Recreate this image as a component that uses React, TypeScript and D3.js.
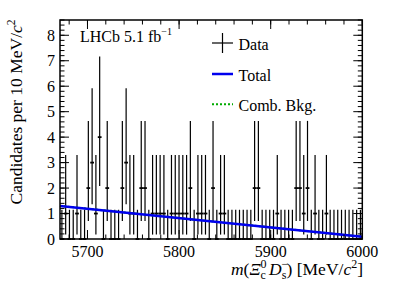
import React from 'react';
import * as d3 from 'd3';

// histogram range and per-bin counts (80 bins)
const massLow = 5670;
const massHigh = 6000;
const counts = [
  0, 1, 0, 0, 1, 0, 0, 2, 3, 1,
  4, 0, 2, 0, 0, 0, 2, 3, 1, 1,
  0, 2, 2, 0, 1, 1, 1, 1, 0, 1,
  1, 1, 1, 1, 2, 0, 1, 1, 1, 0,
  2, 0, 1, 1, 0, 0, 0, 0, 0, 0,
  0, 2, 2, 0, 0, 0, 0, 1, 0, 0,
  0, 0, 2, 2, 1, 2, 0, 1, 0, 0,
  1, 0, 0, 0, 0, 0, 0, 0, 0, 0,
];
// poisson interval edges by count
const poissonLow = [0, 0.173, 0.708, 1.367, 2.086];
const poissonHigh = [1.148, 3.3, 4.638, 5.918, 7.163];

// fit curves
const totalMass = [5670, 6000];
const totalYield = [1.3, 0.09];
const combMass = [5670, 6000];
const combYield = [1.3, 0.09];

const xTicks = [5700, 5800, 5900, 6000];
const yTicks = [0, 1, 2, 3, 4, 5, 6, 7, 8];

const W = 399;
const H = 286;
const L = 60;
const R = 362.3;
const T = 20;
const B = 239;
const font = "Liberation Serif, Tinos, DejaVu Serif, Noto Serif, serif";

export default function App() {
  const x = d3.scaleLinear().domain([massLow, massHigh]).range([L, R]);
  const y = d3.scaleLinear().domain([0, 8.6]).range([B, T]);
  const nBins = counts.length;
  const bw = (massHigh - massLow) / nBins;

  const line = d3.line<number>()
    .x((_, i) => x(totalMass[i]))
    .y(d => y(d));
  const combLine = d3.line<number>()
    .x((_, i) => x(combMass[i]))
    .y(d => y(d));

  const xMinor = d3.range(massLow + 10, massHigh + 0.1, 20);
  const yMinor = d3.range(0, 8.61, 0.2);

  return (
    <svg width={W} height={H} style={{ position: 'absolute', left: 0, top: 0 }}>
      <rect width={W} height={H} fill="white" />
      {/* data points */}
      <g stroke="black" strokeWidth={1.2}>
        {counts.map((c, i) => {
          const lo = massLow + i * bw;
          const cx = x(lo + bw / 2);
          return (
            <g key={i}>
              <line x1={cx} x2={cx} y1={y(poissonLow[c])} y2={y(poissonHigh[c])} />
              <line x1={x(lo)} x2={x(lo + bw)} y1={y(c)} y2={y(c)} strokeWidth={1.8} />
            </g>
          );
        })}
      </g>
      <path d={combLine(combYield) || ''} fill="none" stroke="#00aa00" strokeWidth={2} strokeDasharray="2,2" />
      <path d={line(totalYield) || ''} fill="none" stroke="#0000ee" strokeWidth={2.5} />
      {/* frame */}
      <rect x={L} y={T} width={R - L} height={B - T} fill="none" stroke="black" strokeWidth={1.5} />
      <g stroke="black" strokeWidth={1}>
        {xTicks.map(t => (
          <g key={t}>
            <line x1={x(t)} x2={x(t)} y1={B} y2={B - 9} />
            <line x1={x(t)} x2={x(t)} y1={T} y2={T + 9} />
          </g>
        ))}
        {xMinor.map(t => (
          <g key={t}>
            <line x1={x(t)} x2={x(t)} y1={B} y2={B - 4.5} />
            <line x1={x(t)} x2={x(t)} y1={T} y2={T + 4.5} />
          </g>
        ))}
        {yTicks.map(t => (
          <g key={t}>
            <line x1={L} x2={L + 9} y1={y(t)} y2={y(t)} />
            <line x1={R} x2={R - 9} y1={y(t)} y2={y(t)} />
          </g>
        ))}
        {yMinor.map((t, i) => (
          <g key={i}>
            <line x1={L} x2={L + 4.5} y1={y(t)} y2={y(t)} />
            <line x1={R} x2={R - 4.5} y1={y(t)} y2={y(t)} />
          </g>
        ))}
      </g>
      <g fontFamily={font}>
        {/* tick labels */}
        <g fontSize={16} fill="black">
          {xTicks.map(t => (
            <text key={t} x={x(t)} y={257} textAnchor="middle">{t}</text>
          ))}
          {yTicks.map(t => (
            <text key={t} x={55} y={y(t) + 5.5} textAnchor="end">{t}</text>
          ))}
        </g>
        {/* axis titles */}
        <text transform="translate(22,112) rotate(-90)" textAnchor="middle" fontSize={17.5}>
          Candidates per 10 MeV/<tspan fontStyle="italic">c</tspan><tspan fontSize={11.5} dy={-7}>2</tspan>
        </text>
        <text x={363} y={275} textAnchor="end" fontSize={17.5}>
          <tspan fontStyle="italic">m</tspan>(<tspan fontStyle="italic">Ξ</tspan>
          <tspan fontSize={12} dy={-7}>0</tspan>
          <tspan fontSize={12} dx={-6} dy={11}>c</tspan>
          <tspan dy={-4} dx={3} fontStyle="italic">D</tspan>
          <tspan fontSize={12} dy={-7}>−</tspan>
          <tspan fontSize={12} dx={-6.5} dy={11}>s</tspan>
          <tspan dy={-4}>) [MeV/</tspan><tspan fontStyle="italic">c</tspan>
          <tspan fontSize={12} dy={-7}>2</tspan><tspan dy={7}>]</tspan>
        </text>
        {/* LHCb label */}
        <text x={80} y={42} fontSize={16}>
          LHCb 5.1 fb<tspan fontSize={10} dy={-7}>−1</tspan>
        </text>
        <g fontSize={16}>
          <text x={238.5} y={49.5}>Data</text>
          <text x={238.5} y={80.5}>Total</text>
          <text x={238.5} y={111}>Comb. Bkg.</text>
        </g>
      </g>
      {/* legend */}
      <g stroke="black" strokeWidth={1.2}>
        <line x1={222.5} x2={222.5} y1={33} y2={53} />
        <line x1={212} x2={233} y1={43} y2={43} />
      </g>
      <line x1={212} x2={233} y1={74} y2={74} stroke="#0000ee" strokeWidth={2.5} />
      <line x1={212} x2={233} y1={104.3} y2={104.3} stroke="#00aa00" strokeWidth={2} strokeDasharray="2,2" />
    </svg>
  );
}
